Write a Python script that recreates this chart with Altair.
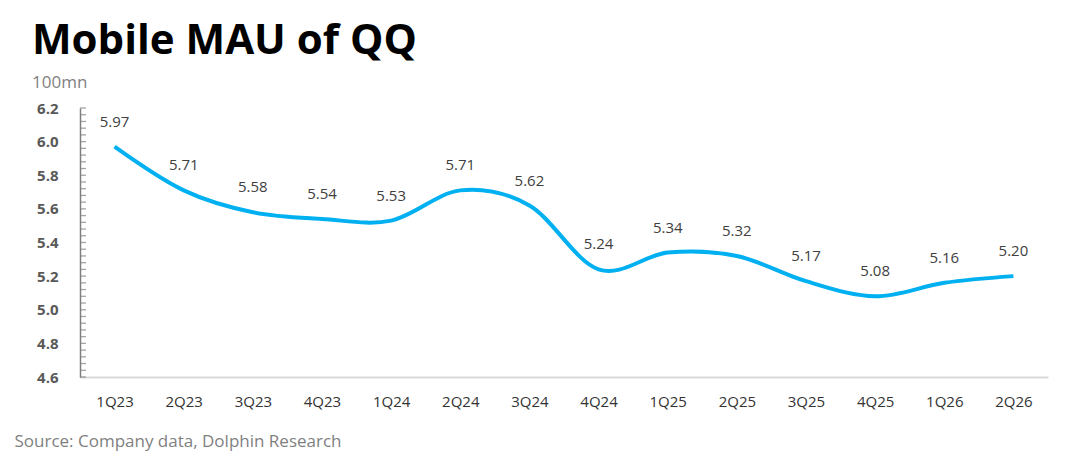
import altair as alt
import pandas as pd

quarters = ["1Q23", "2Q23", "3Q23", "4Q23", "1Q24", "2Q24", "3Q24",
            "4Q24", "1Q25", "2Q25", "3Q25", "4Q25", "1Q26", "2Q26"]
mau = [5.97, 5.71, 5.58, 5.54, 5.53, 5.71, 5.62,
       5.24, 5.34, 5.32, 5.17, 5.08, 5.16, 5.20]
y_labels = [4.6, 4.8, 5.0, 5.2, 5.4, 5.6, 5.8, 6.0, 6.2]
minor_ticks = [round(4.6 + 0.04 * i, 2) for i in range(41)]

FONT = "Open Sans"
W, H = 968, 269

df = pd.DataFrame({"q": quarters, "v": mau})
xenc = alt.X("q:N", sort=quarters, scale=alt.Scale(paddingInner=0, paddingOuter=0),
             axis=alt.Axis(title="Source: Company data, Dolphin Research", labelAngle=0,
                           labelFontSize=15, labelColor="#333333", labelFont=FONT,
                           labelPadding=17, ticks=False, domainColor="#D9D9D9", domainWidth=2,
                           titleFont=FONT, titleFontSize=17, titleFontWeight="normal",
                           titleColor="#7F7F7F", titleAnchor="start", titleAlign="left",
                           titleX=-66, titleY=64, titleBaseline="middle"))
yscale = alt.Scale(domain=[4.6, 6.2], nice=False, zero=False)
yaxis = alt.Axis(title=None, values=y_labels, labelOverlap=False,
                 format=".1f", labelFontSize=15, labelFontWeight="bold",
                 labelColor="#595959", labelFont=FONT, ticks=False,
                 labelPadding=22, domainColor="#7F7F7F", domainWidth=1.5,
                 grid=False)

line = alt.Chart(df).mark_line(color="#00B0F0", strokeWidth=4, interpolate="cardinal",
                               tension=0).encode(
    x=xenc,
    y=alt.Y("v:Q", scale=yscale, axis=yaxis),
)

labels = alt.Chart(df).mark_text(dy=-25, fontSize=15, color="#404040", font=FONT).encode(
    x=xenc,
    y=alt.Y("v:Q", scale=yscale, axis=yaxis),
    text=alt.Text("v:Q", format=".2f"),
)

ticks = alt.Chart(pd.DataFrame({"t": minor_ticks})).mark_tick(
    color="#7F7F7F", thickness=1.3, orient="horizontal").encode(
    y=alt.Y("t:Q", scale=yscale, axis=yaxis),
    x=alt.value(3),
    size=alt.value(6),
)

chart = alt.layer(line, ticks, labels).properties(
    width=W, height=H,
    background="white",
    autosize=alt.AutoSizeParams(type="none"),
    padding={"left": 72, "top": 100, "right": 24, "bottom": 74},
    title=alt.TitleParams(
        text="Mobile MAU of QQ", subtitle="100mn",
        anchor="start", frame="group", dx=-48, dy=-1, offset=8,
        font=FONT, fontSize=42, fontWeight="bold", color="#000000",
        subtitleFont=FONT, subtitleFontSize=17, subtitleColor="#7F7F7F",
        subtitlePadding=12,
    ),
).configure_view(stroke="transparent", strokeWidth=0).configure_axisY(labelOverlap=False)

chart.save("out.html", embed_options={"renderer": "svg", "actions": False})
